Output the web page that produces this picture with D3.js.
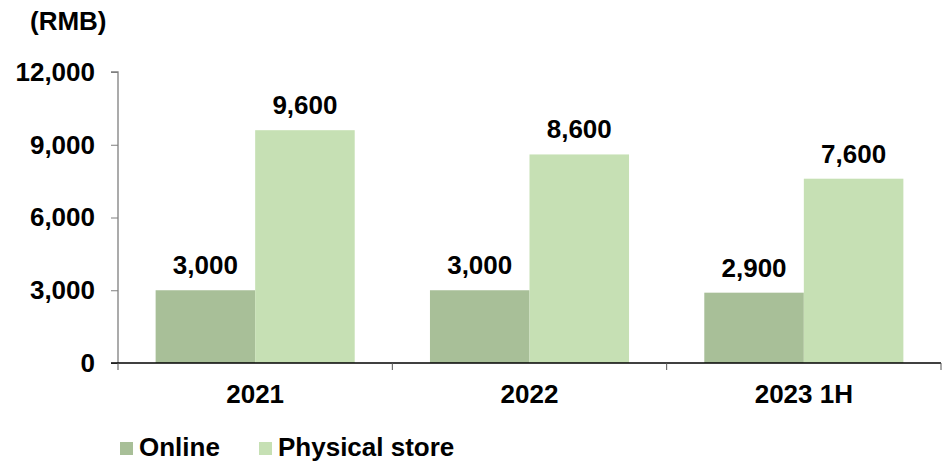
<!DOCTYPE html>
<html><head><meta charset="utf-8">
<script src="https://cdn.jsdelivr.net/npm/d3@7"></script>
<style>body{margin:0;background:#fff}svg{display:block;font-family:"Liberation Sans",Arial,sans-serif;font-weight:bold}</style>
</head><body><svg id="c" width="948" height="463"></svg>
<script>
const categories = ["2021", "2022", "2023 1H"];
const seriesNames = ["Online", "Physical store"];
const online = [3000, 3000, 2900];
const physical = [9600, 8600, 7600];
const yTicks = [0, 3000, 6000, 9000, 12000];
const colors = ["#a8bf98", "#c6e0b4"];

const svg = d3.select("#c");
const FS = 26;
const L = 118, R = 941, T = 72, B = 363;
const x = d3.scaleBand().domain(categories).range([L, R]).paddingInner(0).paddingOuter(0);
const inner = d3.scaleBand().domain(seriesNames).range([0, x.bandwidth()]).paddingOuter(0.378).paddingInner(0);
const y = d3.scaleLinear().domain([0, 12000]).range([B, T]);
const fmt = d3.format(",");
const data = [online, physical];

// bars
seriesNames.forEach((s, si) => {
  svg.append("g").selectAll("rect").data(categories).join("rect")
    .attr("x", c => x(c) + inner(s))
    .attr("width", inner.bandwidth())
    .attr("y", (c, i) => y(data[si][i]))
    .attr("height", (c, i) => B - y(data[si][i]))
    .attr("fill", colors[si]);
  svg.append("g").selectAll("text").data(categories).join("text")
    .attr("x", c => x(c) + inner(s) + inner.bandwidth() / 2)
    .attr("y", (c, i) => y(data[si][i]) - 16)
    .attr("text-anchor", "middle")
    .attr("font-size", FS).attr("fill", "#000")
    .text((c, i) => fmt(data[si][i]));
});

// y axis
const ya = svg.append("g").attr("transform", `translate(${L},0)`)
  .call(d3.axisLeft(y).tickValues(yTicks).tickFormat(fmt).tickSize(7).tickPadding(16));
ya.select(".domain").attr("stroke", "#7f7f7f").attr("stroke-width", 1.3).attr("d", `M-7,${T}H0V${B}`);
ya.selectAll(".tick line").attr("stroke", "#7f7f7f");
ya.selectAll("text").attr("font-size", FS).attr("font-weight", "bold").attr("fill", "#000")
  .attr("font-family", "Liberation Sans, Arial, sans-serif");

// x axis
const xa = svg.append("g").attr("transform", `translate(0,${B})`);
xa.append("line").attr("x1", L - 7).attr("x2", R).attr("y1", 0).attr("y2", 0).attr("stroke", "#000").attr("stroke-width", 1.3);
const xt = categories.map(c => x(c)).concat([R]);
xa.selectAll("line.t").data(xt).join("line").attr("class", "t")
  .attr("x1", d => d).attr("x2", d => d).attr("y1", 0).attr("y2", 7).attr("stroke", "#555");
xa.selectAll("text").data(categories).join("text")
  .attr("x", c => x(c) + x.bandwidth() / 2).attr("y", 40)
  .attr("text-anchor", "middle").attr("font-size", FS).attr("fill", "#000").text(c => c);

// unit
svg.append("text").attr("x", 30).attr("y", 30).attr("font-size", FS).attr("fill", "#000").text("(RMB)");

// legend
const legX = [120, 259];
seriesNames.forEach((s, i) => {
  svg.append("rect").attr("x", legX[i]).attr("y", 442).attr("width", 13).attr("height", 13).attr("fill", colors[i]);
  svg.append("text").attr("x", legX[i] + 19).attr("y", 456).attr("font-size", FS).attr("fill", "#000").text(s);
});
</script></body></html>
